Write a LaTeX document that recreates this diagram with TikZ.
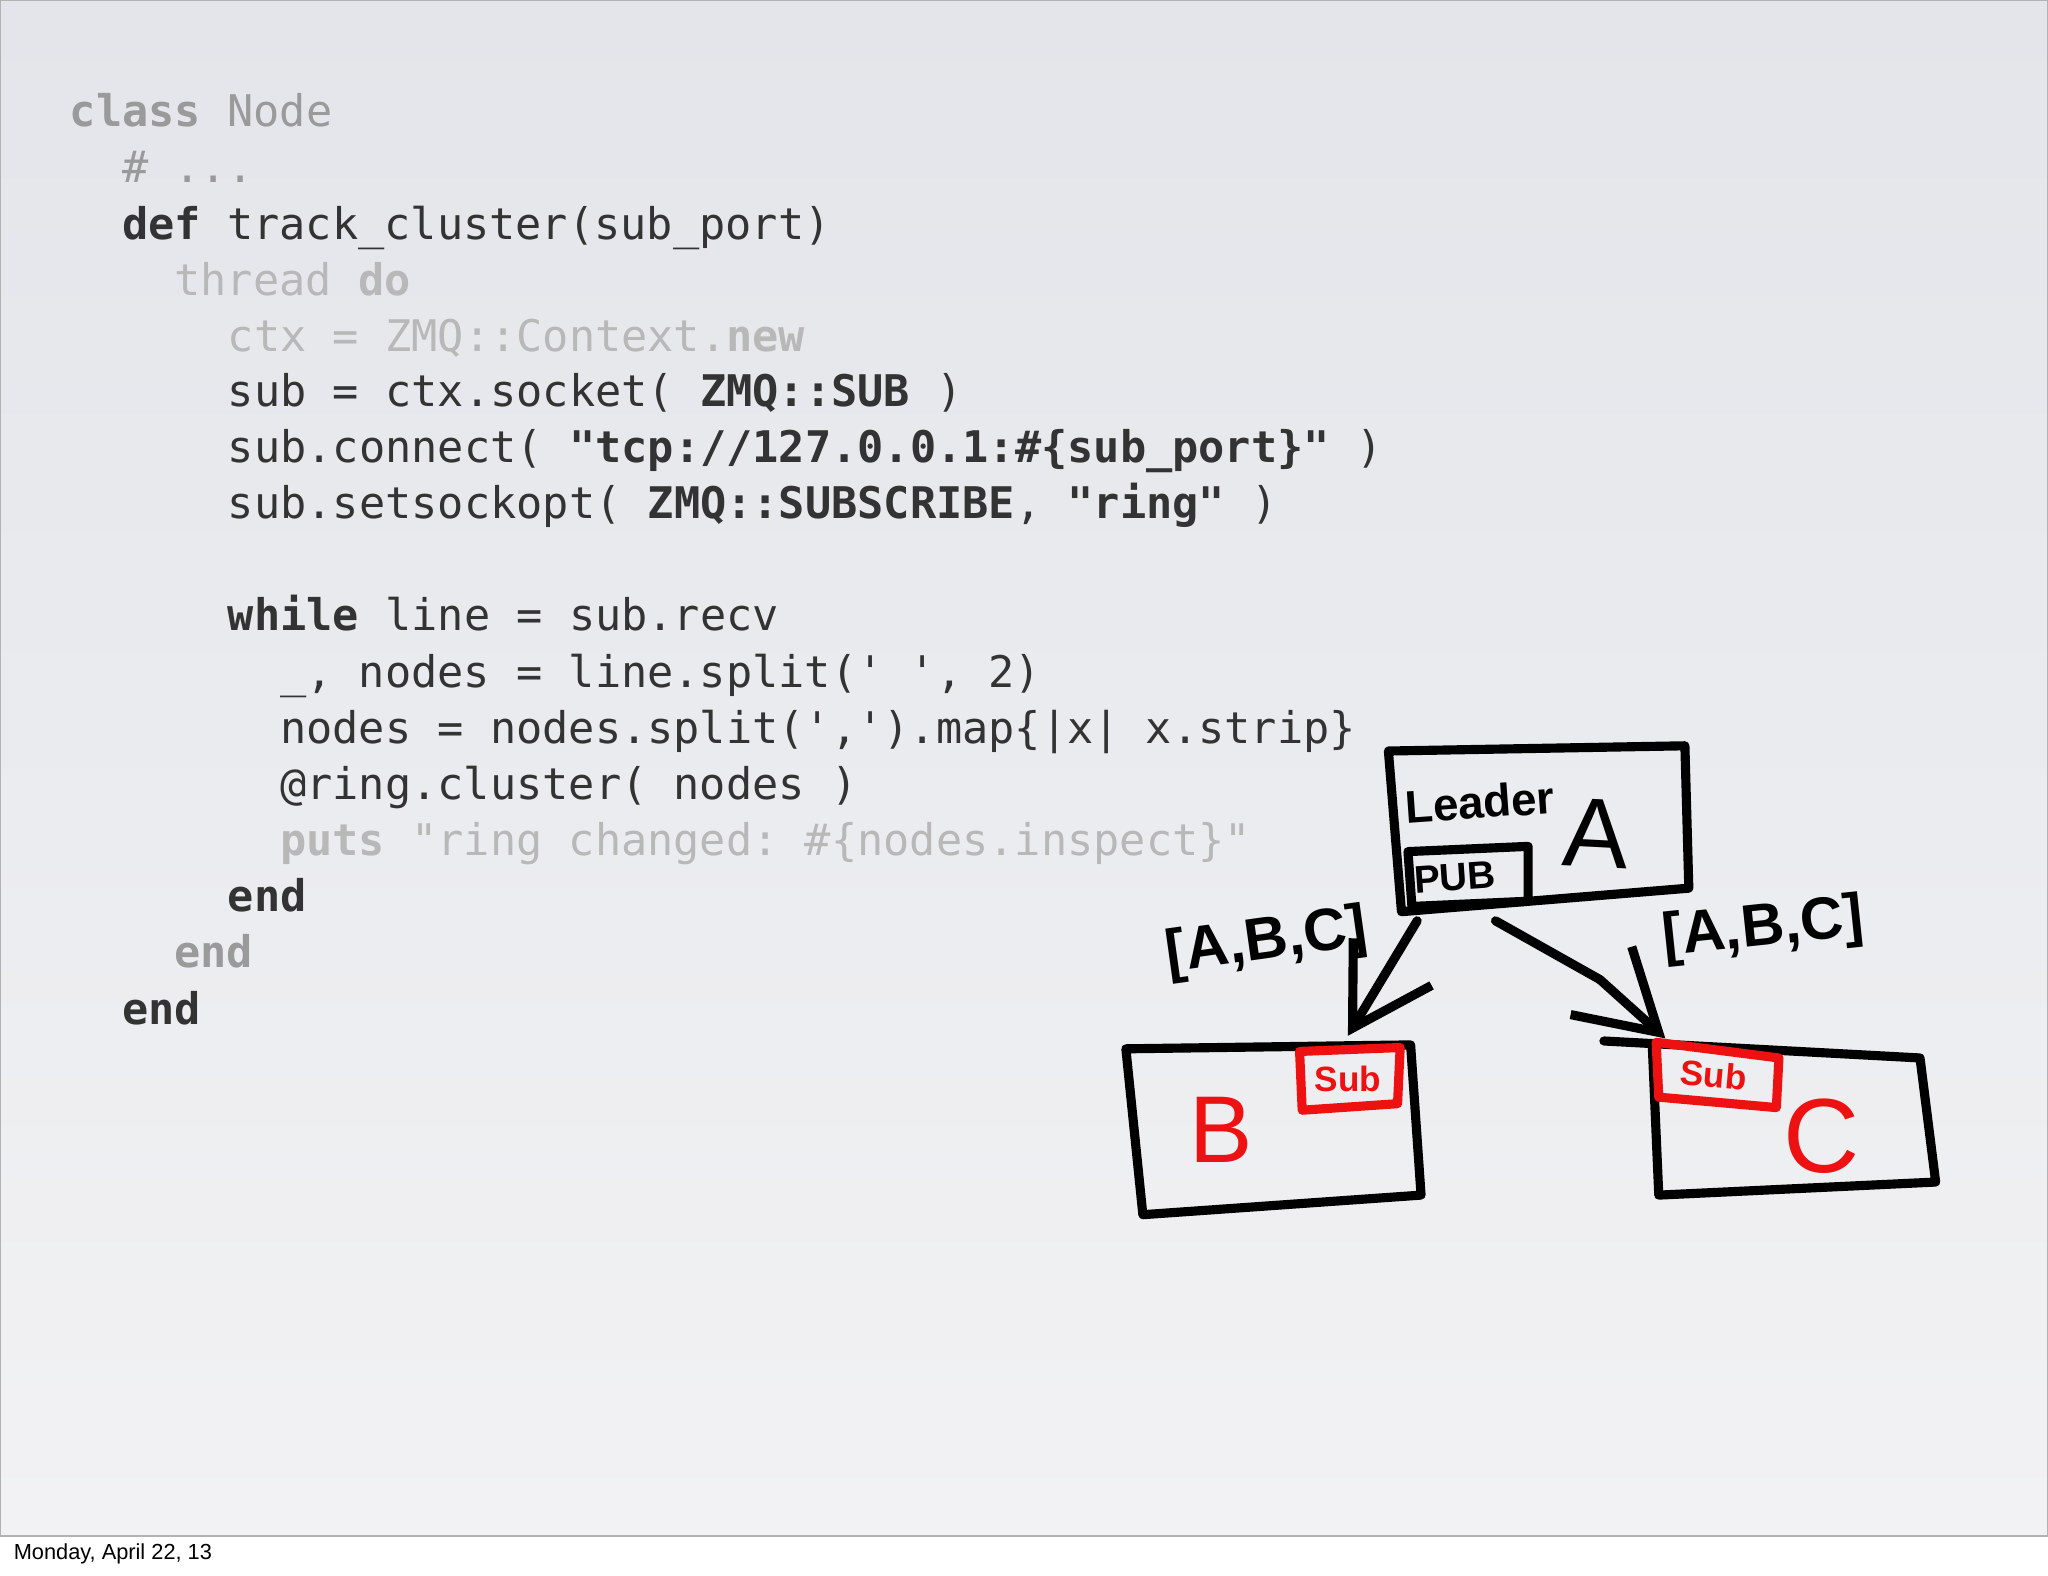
\documentclass[tikz,border=0pt]{standalone}
\usepackage{fontspec}
\setmonofont{DejaVu Sans Mono}
\setsansfont{Liberation Sans}
\usetikzlibrary{arrows.meta}
\definecolor{dk}{HTML}{333333}
\definecolor{md}{HTML}{9A9A9A}
\definecolor{lt}{HTML}{B8B8B8}
\definecolor{rd}{HTML}{EE1111}
\definecolor{bgtop}{HTML}{E3E5EA}
\definecolor{bgbot}{HTML}{F2F2F4}
\begin{document}
\begin{tikzpicture}[x=0.01306cm,y=-0.01306cm,
  code/.style={anchor=base west,inner sep=0pt,font=\fontsize{12.4}{15}\ttfamily},
  hand/.style={draw=black,line width=2.6pt,line join=round,line cap=round},
  redhand/.style={draw=rd,line width=2.6pt,line join=round,line cap=round},
  handtxt/.style={inner sep=0pt,font=\sffamily\bfseries}]
\useasboundingbox (0,0) rectangle (1568,1206);
\shade[top color=bgtop,bottom color=bgbot] (0,0) rectangle (1568,1176);
\fill[white] (0,1176) rectangle (1568,1206);
\draw[black,line width=0.6pt] (0,1176) -- (1568,1176);
\draw[gray!60,line width=0.5pt] (0,0) rectangle (1568,1176);
\node[anchor=west,inner sep=0pt,font=\sffamily\fontsize{6.2}{7}\selectfont] (foot) at (10,1190) {Monday, April 22, 13};
% code
\node[code,text=md] (l1) at (53,97) {\textbf{class} Node};
\node[code,text=md] (l2) at (93,140) {\# ...};
\node[code,text=dk] (l3) at (93,183) {\textbf{def} track\_cluster(sub\_port)};
\node[code,text=lt] (l4) at (133,226) {thread \textbf{do}};
\node[code,text=lt] (l5) at (174,269) {ctx = ZMQ::Context.\textbf{new}};
\node[code,text=dk] (l6) at (174,311) {sub = ctx.socket( \textbf{ZMQ::SUB} )};
\node[code,text=dk] (l7) at (174,354) {sub.connect( \textbf{"tcp://127.0.0.1:\#\{sub\_port\}"} )};
\node[code,text=dk] (l8) at (174,397) {sub.setsockopt( \textbf{ZMQ::SUBSCRIBE}, \textbf{"ring"} )};
\node[code,text=dk] (l9) at (174,483) {\textbf{while} line = sub.recv};
\node[code,text=dk] (l10) at (214,526) {\_, nodes = line.split(' ', 2)};
\node[code,text=dk] (l11) at (214,569) {nodes = nodes.split(',').map\{|x| x.strip\}};
\node[code,text=dk] (l12) at (214,612) {@ring.cluster( nodes )};
\node[code,text=lt] (l13) at (214,655) {\textbf{puts} "ring changed: \#\{nodes.inspect\}"};
\node[code,text=dk] (l14) at (174,698) {\textbf{end}};
\node[code,text=md] (l15) at (133,741) {\textbf{end}};
\node[code,text=dk] (l16) at (93,784) {\textbf{end}};
% box A
\draw[hand] (1063,575) -- (1290,571) -- (1293,680) -- (1073,698) -- cycle;
\draw[hand] (1078,652) -- (1170,648) -- (1170,690) -- (1081,694) -- cycle;
\node[handtxt,font=\sffamily\bfseries\fontsize{13}{14}\selectfont,rotate=4] (lead) at (1133,614) {Leader};
\node[handtxt,font=\sffamily\bfseries\fontsize{11}{12}\selectfont,rotate=4] (pub) at (1114,672) {PUB};
\node[handtxt,font=\sffamily\fontsize{28}{30}\selectfont,rotate=-3] (A) at (1222,638) {A};
% box B
\draw[hand] (862,803) -- (1080,800) -- (1088,915) -- (875,930) -- cycle;
\draw[redhand] (995,805) -- (1072,802) -- (1070,845) -- (997,850) -- cycle;
\node[handtxt,text=rd,font=\sffamily\bfseries\fontsize{10}{11}\selectfont] (subB) at (1032,826) {Sub};
\node[handtxt,text=rd,font=\sffamily\fontsize{27}{30}\selectfont] (B) at (935,865) {B};
% box C
\draw[hand] (1228,797) -- (1470,810) -- (1482,905) -- (1270,915) -- (1265,800);
\draw[redhand] (1268,798) -- (1362,810) -- (1360,848) -- (1270,840) -- cycle;
\node[handtxt,text=rd,font=\sffamily\bfseries\fontsize{10}{11}\selectfont,rotate=-5] (subC) at (1312,823) {Sub};
\node[handtxt,text=rd,font=\sffamily\fontsize{30}{32}\selectfont] (C) at (1395,870) {C};
% arrows
\coordinate (a1) at (1085,705);
\coordinate (b1) at (1032,793);
\coordinate (a2) at (1145,705);
\coordinate (m2) at (1225,750);
\coordinate (c1) at (1275,795);
\draw[hand,-{Straight Barb[length=22pt,width=26pt,line width=2.6pt]}] (a1) -- (b1);
\draw[hand] (a2) -- (m2);
\draw[hand,-{Straight Barb[length=22pt,width=26pt,line width=2.6pt]}] (m2) -- (c1);
% labels
\node[handtxt,font=\sffamily\bfseries\fontsize{17}{18}\selectfont,rotate=8] (lb1) at (970,722) {[A,B,C]};
\node[handtxt,font=\sffamily\bfseries\fontsize{17}{18}\selectfont,rotate=6] (lb2) at (1350,712) {[A,B,C]};
\end{tikzpicture}
\end{document}
